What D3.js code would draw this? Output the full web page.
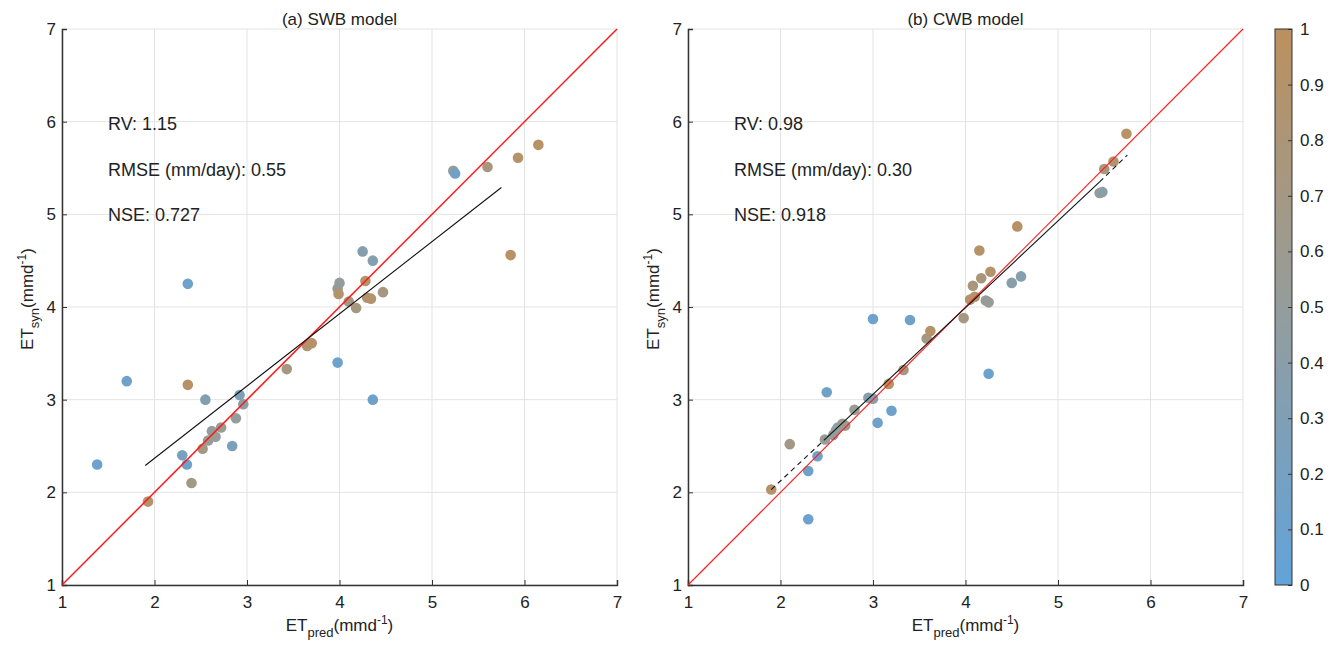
<!DOCTYPE html>
<html><head><meta charset="utf-8">
<script src="https://cdn.jsdelivr.net/npm/d3@7"></script>
<style>body{margin:0;background:#fff;} text{font-family:"Liberation Sans",Arial,sans-serif;fill:#222;}</style>
</head><body>
<svg id="c" width="1338" height="648"></svg>
<script>
// Panel (a) SWB model: ET_pred, ET_syn, colour value
const swbX = [1.38,1.70,1.93,2.30,2.35,2.36,2.36,2.40,2.52,2.55,2.58,2.62,2.66,2.72,2.84,2.88,2.92,2.96,3.43,3.65,3.70,3.98,3.98,4.00,3.99,4.10,4.18,4.25,4.28,4.30,4.34,4.36,4.36,4.47,5.23,5.25,5.60,5.85,5.93,6.15];
const swbY = [2.30,3.20,1.90,2.40,2.30,4.25,3.16,2.10,2.47,3.00,2.56,2.66,2.60,2.70,2.50,2.80,3.05,2.95,3.33,3.58,3.61,3.40,4.20,4.26,4.14,4.06,3.99,4.60,4.28,4.10,4.09,4.50,3.00,4.16,5.47,5.44,5.51,4.56,5.61,5.75];
const swbC = [0.10,0.12,0.90,0.20,0.12,0.12,0.92,0.68,0.70,0.32,0.52,0.48,0.55,0.58,0.25,0.50,0.28,0.40,0.70,0.88,0.92,0.12,0.52,0.50,0.90,0.70,0.72,0.35,0.90,0.90,0.88,0.35,0.12,0.72,0.55,0.15,0.75,0.95,0.90,0.95];
const swbFit = [[1.9,2.29],[5.75,5.29]];
const swbStats = ["RV: 1.15","RMSE (mm/day): 0.55","NSE: 0.727"];

// Panel (b) CWB model
const cwbX = [1.90,2.10,2.30,2.30,2.40,2.48,2.50,2.57,2.60,2.62,2.67,2.70,2.80,2.95,3.00,3.00,3.05,3.17,3.20,3.33,3.40,3.58,3.62,3.98,4.05,4.08,4.10,4.15,4.17,4.22,4.25,4.25,4.27,4.50,4.60,4.56,5.45,5.48,5.50,5.60,5.74];
const cwbY = [2.03,2.52,2.23,1.71,2.39,2.57,3.08,2.62,2.67,2.70,2.74,2.72,2.89,3.02,3.87,3.01,2.75,3.17,2.88,3.32,3.86,3.66,3.74,3.88,4.08,4.23,4.11,4.61,4.31,4.07,4.05,3.28,4.38,4.26,4.33,4.87,5.23,5.24,5.49,5.57,5.87];
const cwbC = [0.92,0.68,0.12,0.10,0.15,0.55,0.15,0.52,0.50,0.45,0.55,0.60,0.55,0.35,0.10,0.35,0.12,0.95,0.12,0.70,0.12,0.72,0.90,0.70,0.90,0.75,0.90,0.92,0.75,0.55,0.55,0.10,0.90,0.38,0.35,0.95,0.55,0.40,0.75,0.85,0.95];
const cwbFitDash1 = [[1.9,2.03],[2.5,2.59]];
const cwbFitSolid = [[2.5,2.59],[5.45,5.35]];
const cwbFitDash2 = [[5.45,5.35],[5.75,5.64]];
const cwbStats = ["RV: 0.98","RMSE (mm/day): 0.30","NSE: 0.918"];

const ticks = [1,2,3,4,5,6,7];
const cbTicks = [0,0.1,0.2,0.3,0.4,0.5,0.6,0.7,0.8,0.9,1];

const color = d3.scaleLinear().domain([0,0.5,1]).range(["#62a3d9","#949d9c","#bc905e"]).interpolate(d3.interpolateRgb);

const svg = d3.select("#c");
const FS = 17;

function panel(x0, X, Y, C, title, stats, fits, redW){
  const x = d3.scaleLinear().domain([1,7]).range([x0, x0+555]);
  const y = d3.scaleLinear().domain([1,7]).range([585, 29]);
  const g = svg.append("g");
  g.selectAll(".gx").data(ticks).enter().append("line")
    .attr("x1",d=>x(d)).attr("x2",d=>x(d)).attr("y1",y(1)).attr("y2",y(7))
    .attr("stroke","#e3e3e3").attr("stroke-width",1);
  g.selectAll(".gy").data(ticks).enter().append("line")
    .attr("y1",d=>y(d)).attr("y2",d=>y(d)).attr("x1",x(1)).attr("x2",x(7))
    .attr("stroke","#e3e3e3").attr("stroke-width",1);
  const xa = g.append("g").attr("transform",`translate(0,${y(1)})`)
    .call(d3.axisBottom(x).tickValues(ticks).tickSize(-5).tickPadding(11).tickFormat(d3.format("d")));
  const ya = g.append("g").attr("transform",`translate(${x(1)},0)`)
    .call(d3.axisLeft(y).tickValues(ticks).tickSize(-5).tickPadding(6).tickFormat(d3.format("d")));
  [xa,ya].forEach(a=>{
    a.select(".domain").attr("stroke","#333").attr("stroke-width",1.5);
    a.selectAll(".tick line").attr("stroke","#333");
    a.selectAll(".tick text").attr("font-size",FS).attr("font-family","Liberation Sans, Arial").attr("fill","#222");
  });
  const data = X.map((v,i)=>({x:v,y:Y[i],c:C[i]}));
  g.selectAll(".pt").data(data).enter().append("circle")
    .attr("cx",d=>x(d.x)).attr("cy",d=>y(d.y)).attr("r",5.3)
    .attr("fill",d=>color(d.c));
  g.append("line").attr("x1",x(1)).attr("y1",y(1)).attr("x2",x(7)).attr("y2",y(7))
    .attr("stroke","#ff1a1a").attr("stroke-width",redW);
  fits.forEach(f=>{
    g.append("line").attr("x1",x(f.p[0][0])).attr("y1",y(f.p[0][1])).attr("x2",x(f.p[1][0])).attr("y2",y(f.p[1][1]))
      .attr("stroke","#111").attr("stroke-width",1.1).attr("stroke-dasharray",f.dash?"5,4":null);
  });
  g.append("text").attr("x",x(4)).attr("y",25).attr("text-anchor","middle").attr("font-size",FS).text(title);
  stats.forEach((s,i)=>{
    g.append("text").attr("x",x0+46).attr("y",130+i*45.5).attr("font-size",18).text(s);
  });
  const xl = g.append("text").attr("x",x(4)).attr("y",631).attr("text-anchor","middle").attr("font-size",FS);
  xl.append("tspan").text("ET");
  xl.append("tspan").attr("font-size",13).attr("dy",6).text("pred");
  xl.append("tspan").attr("dy",-6).text("(mmd");
  xl.append("tspan").attr("font-size",12).attr("dy",-7).text("-1");
  xl.append("tspan").attr("dy",7).text(")");
  const yl = g.append("text").attr("transform",`translate(${x0-29},${y(4)-8}) rotate(-90)`).attr("text-anchor","middle").attr("font-size",FS);
  yl.append("tspan").text("ET");
  yl.append("tspan").attr("font-size",13).attr("dy",6).text("syn");
  yl.append("tspan").attr("dy",-6).text("(mmd");
  yl.append("tspan").attr("font-size",12).attr("dy",-7).text("-1");
  yl.append("tspan").attr("dy",7).text(")");
}

panel(62, swbX, swbY, swbC, "(a) SWB model", swbStats, [{p:swbFit,dash:false}], 1.5);
panel(688, cwbX, cwbY, cwbC, "(b) CWB model", cwbStats,
  [{p:cwbFitDash1,dash:true},{p:cwbFitSolid,dash:false},{p:cwbFitDash2,dash:true}], 1.1);

// colorbar
const cbX = 1275, cbW = 17;
const cy = d3.scaleLinear().domain([0,1]).range([585,29]);
const defs = svg.append("defs");
const grad = defs.append("linearGradient").attr("id","cb").attr("x1",0).attr("y1",1).attr("x2",0).attr("y2",0);
[0,0.25,0.5,0.75,1].forEach(t=>grad.append("stop").attr("offset",t).attr("stop-color",color(t)));
svg.append("rect").attr("x",cbX).attr("y",cy(1)).attr("width",cbW).attr("height",cy(0)-cy(1))
  .attr("fill","url(#cb)").attr("stroke","#333").attr("stroke-width",1);
const ca = svg.append("g").attr("transform",`translate(${cbX+cbW},0)`)
  .call(d3.axisRight(cy).tickValues(cbTicks).tickSize(-4).tickPadding(8).tickFormat(d=>d===0?"0":d===1?"1":d3.format(".1f")(d)));
ca.select(".domain").remove();
ca.selectAll(".tick line").attr("stroke","#333");
ca.selectAll(".tick text").attr("font-size",FS).attr("font-family","Liberation Sans, Arial").attr("fill","#222");
</script>
</body></html>
